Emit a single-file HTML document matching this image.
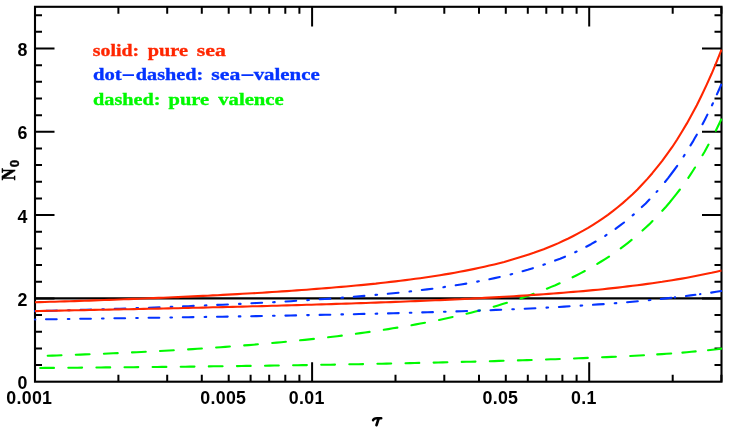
<!DOCTYPE html>
<html><head><meta charset="utf-8"><title>N0 vs tau</title>
<style>html,body{margin:0;padding:0;background:#fff;overflow:hidden}svg{display:block}#w{width:750px;height:440px;will-change:transform}</style></head>
<body><div id="w">
<svg width="750" height="440" viewBox="0 0 750 440">
<rect width="750" height="440" fill="#fff"/>
<defs><clipPath id="c"><rect x="33.9" y="0" width="688.7" height="440"/></clipPath></defs>
<path d="M118.4 381.8L118.4 374.8M118.4 6.8L118.4 13.8M167.2 381.8L167.2 374.8M167.2 6.8L167.2 13.8M201.8 381.8L201.8 374.8M201.8 6.8L201.8 13.8M228.7 381.8L228.7 374.8M228.7 6.8L228.7 13.8M250.6 381.8L250.6 374.8M250.6 6.8L250.6 13.8M269.2 381.8L269.2 374.8M269.2 6.8L269.2 13.8M285.3 381.8L285.3 374.8M285.3 6.8L285.3 13.8M299.4 381.8L299.4 374.8M299.4 6.8L299.4 13.8M312.1 381.8L312.1 362.2M312.1 6.8L312.1 26.4M395.5 381.8L395.5 374.8M395.5 6.8L395.5 13.8M444.3 381.8L444.3 374.8M444.3 6.8L444.3 13.8M479.0 381.8L479.0 374.8M479.0 6.8L479.0 13.8M505.8 381.8L505.8 374.8M505.8 6.8L505.8 13.8M527.8 381.8L527.8 374.8M527.8 6.8L527.8 13.8M546.3 381.8L546.3 374.8M546.3 6.8L546.3 13.8M562.4 381.8L562.4 374.8M562.4 6.8L562.4 13.8M576.6 381.8L576.6 374.8M576.6 6.8L576.6 13.8M589.2 381.8L589.2 362.2M589.2 6.8L589.2 26.4M672.7 381.8L672.7 374.8M672.7 6.8L672.7 13.8M721.4 381.8L721.4 374.8M721.4 6.8L721.4 13.8M35.0 365.1L42.0 365.1M721.5 365.1L714.5 365.1M35.0 348.4L42.0 348.4M721.5 348.4L714.5 348.4M35.0 331.8L42.0 331.8M721.5 331.8L714.5 331.8M35.0 315.1L42.0 315.1M721.5 315.1L714.5 315.1M35.0 298.4L54.5 298.4M721.5 298.4L702.0 298.4M35.0 281.8L42.0 281.8M721.5 281.8L714.5 281.8M35.0 265.1L42.0 265.1M721.5 265.1L714.5 265.1M35.0 248.5L42.0 248.5M721.5 248.5L714.5 248.5M35.0 231.8L42.0 231.8M721.5 231.8L714.5 231.8M35.0 215.1L54.5 215.1M721.5 215.1L702.0 215.1M35.0 198.5L42.0 198.5M721.5 198.5L714.5 198.5M35.0 181.8L42.0 181.8M721.5 181.8L714.5 181.8M35.0 165.1L42.0 165.1M721.5 165.1L714.5 165.1M35.0 148.5L42.0 148.5M721.5 148.5L714.5 148.5M35.0 131.8L54.5 131.8M721.5 131.8L702.0 131.8M35.0 115.2L42.0 115.2M721.5 115.2L714.5 115.2M35.0 98.5L42.0 98.5M721.5 98.5L714.5 98.5M35.0 81.8L42.0 81.8M721.5 81.8L714.5 81.8M35.0 65.2L42.0 65.2M721.5 65.2L714.5 65.2M35.0 48.5L54.5 48.5M721.5 48.5L702.0 48.5M35.0 31.8L42.0 31.8M721.5 31.8L714.5 31.8M35.0 15.2L42.0 15.2M721.5 15.2L714.5 15.2" stroke="#000" stroke-width="2" fill="none"/>
<rect x="35.0" y="6.8" width="686.5" height="374.9" fill="none" stroke="#000" stroke-width="2.1"/>
<line x1="35.0" y1="298.4" x2="721.5" y2="298.4" stroke="#000" stroke-width="2.1"/>
<g clip-path="url(#c)">
<path d="M40.2 368.0L44.8 367.9L49.4 367.9L54.0 367.9M68.3 367.8L72.9 367.7L77.5 367.7L82.1 367.6M96.4 367.5L101.0 367.5L105.6 367.4L110.2 367.4M124.5 367.3L129.1 367.2L133.7 367.2L138.3 367.1M152.6 367.0L157.2 367.0L161.8 366.9L166.4 366.9M180.7 366.7L185.3 366.7L189.9 366.6L194.5 366.6M208.8 366.4L213.4 366.3L218.0 366.3L222.6 366.2M236.9 366.1L241.5 366.0L246.1 365.9L250.7 365.9M265.0 365.7L269.6 365.6L274.2 365.5L278.8 365.5M293.1 365.3L297.7 365.2L302.3 365.1L306.9 365.1M321.2 364.8L325.8 364.7L330.4 364.7L335.0 364.6M349.3 364.3L353.9 364.3L358.5 364.2L363.1 364.1M377.4 363.8L382.0 363.7L386.6 363.6L391.2 363.5M405.5 363.2L410.1 363.1L414.7 363.0L419.3 362.9M433.6 362.6L438.2 362.5L442.8 362.4L447.4 362.3M461.7 361.9L466.3 361.8L470.9 361.7L475.5 361.6M489.8 361.2L494.4 361.1L499.0 360.9L503.6 360.8M517.9 360.4L522.5 360.2L527.1 360.1L531.7 360.0M546.0 359.5L550.6 359.3L555.2 359.2L559.8 359.0M574.0 358.5L578.6 358.3L583.2 358.1L587.8 357.9M602.1 357.3L606.7 357.1L611.3 356.9L615.9 356.7M630.2 356.0L634.8 355.7L639.4 355.5L644.0 355.2M657.2 354.4L661.9 354.1L666.5 353.8L671.2 353.5M682.4 352.6L686.9 352.2L691.3 351.8L695.7 351.4M708.0 350.2L712.4 349.7L716.8 349.2L721.2 348.6" fill="none" stroke="#00f900" stroke-width="2.10" stroke-linecap="round" stroke-linejoin="round"/>
<path d="M47.7 355.8L52.3 355.6L56.9 355.5L61.5 355.3M75.8 354.8L80.4 354.6L85.0 354.4L89.6 354.3M103.9 353.7L108.5 353.5L113.1 353.3L117.7 353.1M132.0 352.4L136.6 352.2L141.2 352.0L145.8 351.7M160.0 351.0L164.6 350.7L169.2 350.5L173.8 350.2M188.1 349.4L192.7 349.1L197.3 348.8L201.9 348.5M216.1 347.5L220.7 347.2L225.3 346.9L229.9 346.5M244.2 345.4L248.7 345.1L253.3 344.7L257.9 344.3M272.2 343.0L276.7 342.6L281.3 342.2L285.9 341.8M300.1 340.3L304.7 339.9L309.3 339.4L313.9 338.9M328.1 337.3L332.6 336.7L337.2 336.2L341.8 335.6M355.9 333.8L360.5 333.1L365.1 332.5L369.6 331.9M383.8 329.8L388.3 329.1L392.8 328.3L397.4 327.6M411.5 325.2L416.0 324.4L420.5 323.5L425.0 322.7M439.1 319.9L443.6 318.9L448.1 318.0L452.6 317.0M466.5 313.8L471.0 312.7L475.4 311.6L479.9 310.4M493.7 306.7L498.1 305.4L502.5 304.1L506.9 302.8M520.5 298.4L524.9 296.9L529.2 295.4L533.6 293.8M546.9 288.7L551.2 286.9L555.4 285.2L559.6 283.3M572.6 277.3L576.7 275.2L580.8 273.1L584.8 271.0M597.3 263.9L601.2 261.5L605.1 259.1L609.0 256.6M620.7 248.4L624.4 245.6L628.0 242.8L631.6 239.9M642.5 230.6L645.8 227.5L649.2 224.4L652.5 221.1M662.3 210.8L666.0 206.7L669.6 202.5L673.1 198.2L676.5 193.9L679.9 189.5M688.3 177.8L690.6 174.4L692.8 171.0L695.0 167.5M702.5 155.2L704.6 151.7L706.5 148.2L708.5 144.6M715.8 130.7L717.6 127.0L719.4 123.3L721.2 119.5" fill="none" stroke="#00f900" stroke-width="2.10" stroke-linecap="round" stroke-linejoin="round"/>
<path d="M35.0 319.5L35.3 319.5M46.0 319.3L51.4 319.2L56.7 319.2M67.8 319.0L69.4 319.0M80.2 318.8L85.6 318.8L90.9 318.7M102.0 318.5L103.6 318.5M114.4 318.3L119.8 318.3L125.1 318.2M136.2 318.0L137.8 318.0M148.6 317.8L154.0 317.8L159.3 317.7M170.4 317.5L172.0 317.5M182.8 317.3L188.2 317.2L193.5 317.1M204.6 317.0L206.2 316.9M217.0 316.8L222.4 316.7L227.7 316.6M238.8 316.4L240.4 316.4M251.2 316.2L256.6 316.1L261.9 316.0M273.0 315.8L274.6 315.8M285.4 315.6L290.8 315.5L296.1 315.4M307.2 315.1L308.8 315.1M319.6 314.9L325.0 314.8L330.3 314.7M341.4 314.4L343.0 314.4M353.8 314.2L359.2 314.0L364.5 313.9M375.6 313.7L377.2 313.6M388.0 313.4L393.3 313.2L398.7 313.1M409.8 312.8L411.4 312.7M422.2 312.4L427.5 312.3L432.9 312.1M444.0 311.8L445.6 311.7M456.4 311.4L461.7 311.2L467.1 311.0M478.2 310.6L479.8 310.6M490.5 310.2L495.9 309.9L501.2 309.7M512.3 309.3L513.9 309.2M524.7 308.7L530.1 308.5L535.4 308.2M546.5 307.6L548.1 307.5M558.9 307.0L564.2 306.6L569.6 306.3M580.6 305.6L582.2 305.5M593.0 304.8L598.3 304.4L603.7 304.1M614.7 303.2L616.3 303.1M627.1 302.2L632.4 301.7L637.8 301.3M648.8 300.2L650.4 300.0M660.8 299.0L666.1 298.4L671.4 297.8M674.8 297.4L675.2 297.4M686.0 296.0L690.7 295.4L695.4 294.8M700.0 294.2L700.4 294.1M711.2 292.6L716.2 291.8L721.2 291.0" fill="none" stroke="#0433ff" stroke-width="2.10" stroke-linecap="round" stroke-linejoin="round"/>
<path d="M35.0 311.1L35.5 311.1M46.3 310.8L51.7 310.7L57.0 310.5M68.1 310.2L69.7 310.2M80.5 309.9L85.9 309.7L91.2 309.6M102.3 309.2L103.9 309.2M114.7 308.8L120.0 308.7L125.4 308.5M136.5 308.1L138.1 308.0M148.9 307.7L154.2 307.5L159.6 307.3M170.7 306.9L172.3 306.8M183.0 306.4L188.4 306.2L193.7 305.9M204.8 305.5L206.4 305.4M217.2 304.9L222.6 304.7L227.9 304.5M239.0 303.9L240.6 303.9M251.4 303.3L256.7 303.0L262.1 302.8M273.1 302.2L274.7 302.1M285.5 301.5L290.9 301.2L296.2 300.8M307.3 300.1L308.9 300.0M319.7 299.3L325.0 299.0L330.3 298.6M341.4 297.8L343.0 297.6M353.8 296.8L359.1 296.4L364.4 295.9M375.5 294.9L377.1 294.8M387.8 293.8L393.2 293.2L398.5 292.7M409.5 291.5L411.1 291.3M421.8 290.0L427.1 289.4L432.4 288.7M443.4 287.2L445.0 286.9M455.7 285.3L461.0 284.5L466.3 283.6M477.2 281.6L478.8 281.3M489.4 279.2L494.6 278.1L499.8 277.0M510.6 274.4L512.2 274.0M522.6 271.2L527.7 269.8L532.9 268.2M543.4 264.8L544.9 264.3M555.1 260.6L560.1 258.7L565.0 256.7M575.2 252.2L576.6 251.5M586.3 246.7L591.0 244.2L595.7 241.5M605.2 235.8L606.5 234.9M615.5 228.9L619.8 225.7L624.0 222.5M632.6 215.4L633.8 214.4M641.8 207.1L645.7 203.4L649.4 199.6M656.6 191.9L657.4 191.0M665.0 182.0L668.1 178.1L671.2 174.0L674.2 170.0L677.2 165.9M683.6 156.5L684.6 154.9M690.5 145.4L692.7 141.9L694.7 138.3L696.8 134.7M702.5 124.2L705.0 119.4L707.4 114.6M712.0 105.3L712.9 103.3M716.9 94.4L719.1 89.5L721.2 84.6" fill="none" stroke="#0433ff" stroke-width="2.10" stroke-linecap="round" stroke-linejoin="round"/>
<path d="M35.0 311.1L39.9 311.0L44.9 310.9L49.8 310.8L54.8 310.7L59.7 310.6L64.6 310.5L69.6 310.4L74.5 310.3L79.4 310.2L84.4 310.1L89.3 310.0L94.3 309.9L99.2 309.8L104.1 309.7L109.1 309.6L114.0 309.5L119.0 309.4L123.9 309.3L128.8 309.2L133.8 309.1L138.7 309.0L143.6 308.9L148.6 308.8L153.5 308.7L158.5 308.6L163.4 308.5L168.3 308.4L173.3 308.3L178.2 308.2L183.2 308.0L188.1 307.9L193.0 307.8L198.0 307.7L202.9 307.6L207.8 307.5L212.8 307.3L217.7 307.2L222.7 307.1L227.6 307.0L232.5 306.9L237.5 306.7L242.4 306.6L247.4 306.5L252.3 306.3L257.2 306.2L262.2 306.1L267.1 306.0L272.0 305.8L277.0 305.7L281.9 305.5L286.9 305.4L291.8 305.3L296.7 305.1L301.7 305.0L306.6 304.8L311.6 304.7L316.5 304.5L321.4 304.4L326.4 304.2L331.3 304.1L336.2 303.9L341.2 303.8L346.1 303.6L351.1 303.5L356.0 303.3L360.9 303.1L365.9 303.0L370.8 302.8L375.8 302.6L380.7 302.4L385.6 302.3L390.6 302.1L395.5 301.9L400.4 301.7L405.4 301.5L410.3 301.3L415.3 301.1L420.2 300.9L425.1 300.7L430.1 300.5L435.0 300.3L440.0 300.1L444.9 299.9L449.8 299.6L454.8 299.4L459.7 299.2L464.6 298.9L469.6 298.7L474.5 298.4L479.5 298.2L484.4 297.9L489.3 297.6L494.3 297.4L499.2 297.1L504.2 296.8L509.1 296.5L514.0 296.2L519.0 295.9L523.9 295.6L528.8 295.3L533.8 294.9L538.7 294.6L543.7 294.2L548.6 293.9L553.5 293.5L558.5 293.1L563.4 292.7L568.4 292.3L573.3 291.9L578.2 291.5L583.2 291.1L588.1 290.6L593.0 290.1L598.0 289.7L602.9 289.2L607.9 288.6L612.8 288.1L617.7 287.6L622.7 287.0L627.6 286.4L632.6 285.8L637.5 285.2L642.4 284.6L647.4 283.9L652.3 283.2L657.2 282.5L662.2 281.8L667.1 281.0L672.1 280.2L677.0 279.4L681.9 278.6L686.9 277.7L691.8 276.8L696.8 275.8L701.7 274.8L706.6 273.8L711.6 272.8L716.5 271.7L721.5 270.5" fill="none" stroke="#ff2600" stroke-width="2.10" stroke-linejoin="round"/>
<path d="M35.0 302.3L39.9 302.1L44.9 302.0L49.8 301.8L54.8 301.7L59.7 301.5L64.6 301.4L69.6 301.2L74.5 301.1L79.4 300.9L84.4 300.7L89.3 300.6L94.3 300.4L99.2 300.2L104.1 300.0L109.1 299.9L114.0 299.7L119.0 299.5L123.9 299.3L128.8 299.1L133.8 298.9L138.7 298.7L143.6 298.5L148.6 298.3L153.5 298.1L158.5 297.9L163.4 297.7L168.3 297.5L173.3 297.3L178.2 297.1L183.2 296.8L188.1 296.6L193.0 296.4L198.0 296.1L202.9 295.9L207.8 295.7L212.8 295.4L217.7 295.2L222.7 294.9L227.6 294.6L232.5 294.4L237.5 294.1L242.4 293.8L247.4 293.5L252.3 293.3L257.2 293.0L262.2 292.7L267.1 292.4L272.0 292.0L277.0 291.7L281.9 291.4L286.9 291.1L291.8 290.7L296.7 290.4L301.7 290.0L306.6 289.7L311.6 289.3L316.5 288.9L321.4 288.5L326.4 288.1L331.3 287.7L336.2 287.3L341.2 286.9L346.1 286.5L351.1 286.0L356.0 285.5L360.9 285.1L365.9 284.6L370.8 284.1L375.8 283.6L380.7 283.0L385.6 282.5L390.6 281.9L395.5 281.4L400.4 280.8L405.4 280.1L410.3 279.5L415.3 278.8L420.2 278.2L425.1 277.5L430.1 276.7L435.0 276.0L440.0 275.2L444.9 274.4L449.8 273.6L454.8 272.7L459.7 271.8L464.6 270.9L469.6 269.9L474.5 268.9L479.5 267.8L484.4 266.7L489.3 265.6L494.3 264.4L499.2 263.2L504.2 261.9L509.1 260.5L514.0 259.1L519.0 257.6L523.9 256.1L528.8 254.5L533.8 252.8L538.7 251.0L543.7 249.2L548.6 247.2L553.5 245.2L558.5 243.1L563.4 240.8L568.4 238.5L573.3 236.0L578.2 233.4L583.2 230.7L588.1 227.9L593.0 224.8L598.0 221.7L602.9 218.3L607.9 214.8L612.8 211.1L617.7 207.2L622.7 203.1L627.6 198.8L632.6 194.2L637.5 189.4L642.4 184.3L647.4 178.9L652.3 173.2L657.2 167.2L662.2 160.9L667.1 154.2L672.1 147.2L677.0 139.7L681.9 131.8L686.9 123.4L691.8 114.6L696.8 105.2L701.7 95.3L706.6 84.9L711.6 73.8L716.5 62.1L721.5 49.6" fill="none" stroke="#ff2600" stroke-width="2.10" stroke-linejoin="round"/>
</g>
<g style="font-family:'Liberation Sans',sans-serif;font-size:17.8px;font-weight:bold;fill:#000;letter-spacing:0.3px">
<text x="6.3" y="403.8" text-anchor="start">0.001</text>
<text x="223.3" y="403.8" text-anchor="middle">0.005</text>
<text x="306.7" y="403.8" text-anchor="middle">0.01</text>
<text x="500.4" y="403.8" text-anchor="middle">0.05</text>
<text x="583.8" y="403.8" text-anchor="middle">0.1</text>
<text x="27.6" y="389.1" text-anchor="end">0</text>
<text x="27.6" y="305.8" text-anchor="end">2</text>
<text x="27.6" y="222.5" text-anchor="end">4</text>
<text x="27.6" y="139.2" text-anchor="end">6</text>
<text x="27.6" y="55.9" text-anchor="end">8</text>
</g>
<g transform="translate(15.0 180.2) rotate(-90)"><text x="0" y="0" transform="scale(0.95 1.04)" style="font-family:'Liberation Serif',serif;font-weight:bold;font-size:17.4px;stroke:#000;stroke-width:0.6px">N</text><text x="12.9" y="3.9" style="font-family:'Liberation Sans',sans-serif;font-weight:bold;font-size:13.4px;stroke:#000;stroke-width:0.4px">0</text></g>
<path d="M373.1 420.2 C373.6 418.5 375 418.2 377 418.2 L381.2 418.2" fill="none" stroke="#000" stroke-width="2.6" stroke-linecap="round"/>
<path d="M378.5 418.8 L376.5 425.1" fill="none" stroke="#000" stroke-width="2.7" stroke-linecap="round"/>
<g style="font-family:'Liberation Serif',serif;font-weight:bold;font-size:17.3px">
<text x="92.8" y="55.8" fill="#ff2600" stroke="#ff2600" stroke-width="0.35" textLength="46.2" lengthAdjust="spacingAndGlyphs">solid:</text>
<text x="147.8" y="55.8" fill="#ff2600" stroke="#ff2600" stroke-width="0.35" textLength="40.2" lengthAdjust="spacingAndGlyphs">pure</text>
<text x="196.8" y="55.8" fill="#ff2600" stroke="#ff2600" stroke-width="0.35" textLength="29.0" lengthAdjust="spacingAndGlyphs">sea</text>
<text x="93.0" y="80.1" fill="#0433ff" stroke="#0433ff" stroke-width="0.35" textLength="28.7" lengthAdjust="spacingAndGlyphs">dot</text>
<text x="135.8" y="80.1" fill="#0433ff" stroke="#0433ff" stroke-width="0.35" textLength="67.4" lengthAdjust="spacingAndGlyphs">dashed:</text>
<text x="211.3" y="80.1" fill="#0433ff" stroke="#0433ff" stroke-width="0.35" textLength="29.0" lengthAdjust="spacingAndGlyphs">sea</text>
<text x="253.7" y="80.1" fill="#0433ff" stroke="#0433ff" stroke-width="0.35" textLength="66.0" lengthAdjust="spacingAndGlyphs">valence</text>
<text x="93.1" y="105.2" fill="#00f900" stroke="#00f900" stroke-width="0.35" textLength="67.4" lengthAdjust="spacingAndGlyphs">dashed:</text>
<text x="168.5" y="105.2" fill="#00f900" stroke="#00f900" stroke-width="0.35" textLength="40.6" lengthAdjust="spacingAndGlyphs">pure</text>
<text x="218.3" y="105.2" fill="#00f900" stroke="#00f900" stroke-width="0.35" textLength="65.4" lengthAdjust="spacingAndGlyphs">valence</text>
</g>
<path d="M122.6 75.2H134M241.4 75.1H253.4" stroke="#0433ff" stroke-width="1.8" fill="none"/>
</svg>
</div></body></html>
